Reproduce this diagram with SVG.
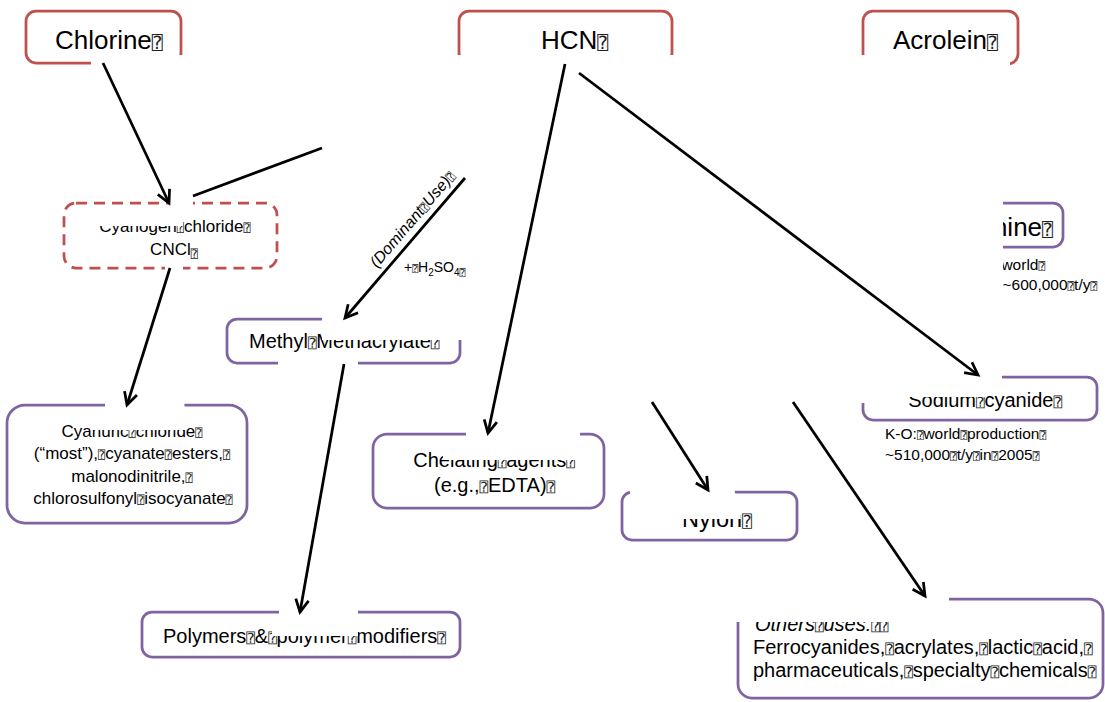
<svg xmlns="http://www.w3.org/2000/svg" width="1105" height="702" viewBox="0 0 1105 702">
  <style>
    .red { fill: none; stroke: #C0504D; stroke-width: 2.75; }
    .pur { fill: none; stroke: #8064A2; stroke-width: 2.75; }
    .dash { stroke-dasharray: 11 7; }
    text { font-family: "Liberation Sans", Arial, sans-serif; fill: #000; }
    .t26 { font-size: 26px; }
    .t24 { font-size: 23.5px; }
    .t20 { font-size: 20px; }
    .t17 { font-size: 17px; }
    .t15 { font-size: 15.5px; }
    .it { font-style: italic; }
    .q { font-family: "DejaVu Sans Mono", "DejaVu Sans", monospace; font-size: 0.7em; font-style: normal; fill: #222; }
    .mask { fill: #fff; stroke: none; }
    .conn { fill: none; stroke: #000; stroke-width: 2.75; }
  </style>
  <defs>
    <marker id="arrow" markerUnits="userSpaceOnUse" viewBox="0 0 16 14" markerWidth="16" markerHeight="14" refX="14" refY="7" orient="auto" overflow="visible">
      <path d="M1.5,0.5 L14,7 L1.5,13.5" fill="none" stroke="#000" stroke-width="2.75" stroke-linejoin="miter"/>
    </marker>
    <clipPath id="clip-amine">
      <rect x="1003" y="190" width="110" height="110"/>
    </clipPath>
  </defs>

  <rect width="1105" height="702" fill="#fff"/>

  <!-- feedstocks -->
  <g id="chlorine">
    <rect class="red" x="26" y="11" width="155" height="52" rx="10"/>
    <text class="t26" x="55" y="49">Chlorine<tspan class="q">⍰</tspan></text>
    <rect class="mask" x="91" y="55" width="95" height="12"/>
  </g>
  <g id="hcn">
    <rect class="red" x="459" y="11" width="213" height="52" rx="10"/>
    <text class="t26" x="541" y="49">HCN<tspan class="q">⍰</tspan></text>
    <rect class="mask" x="455" y="55" width="222" height="12"/>
  </g>
  <g id="acrolein">
    <rect class="red" x="863" y="11" width="155" height="53" rx="10"/>
    <text class="t26" x="893" y="49">Acrolein<tspan class="q">⍰</tspan></text>
    <rect class="mask" x="855" y="55" width="155" height="12"/>
  </g>

  <!-- intermediates -->
  <g id="cyanogen-chloride">
    <text class="t17" text-anchor="middle" x="175" y="232">Cyanogen<tspan class="q">⍰</tspan>chloride<tspan class="q">⍰</tspan></text>
    <text class="t17" text-anchor="middle" x="174" y="255">CNCl<tspan class="q" font-size="9" dy="3">⍰</tspan></text>
    <rect class="mask" x="92" y="206" width="91" height="20"/>
    <rect class="red dash" x="64" y="203" width="213" height="65" rx="12"/>
    <rect class="mask" x="169" y="198" width="24" height="10"/>
    <rect class="mask" x="165" y="263" width="18" height="10"/>
  </g>
  <g id="methyl-methacrylate">
    <rect class="pur" x="227" y="319" width="233" height="44" rx="10"/>
    <text class="t20" x="249" y="348" font-size="20.5px">Methyl<tspan class="q">⍰</tspan>Methacrylate<tspan class="q">⍰</tspan></text>
    <rect class="mask" x="322" y="310" width="143" height="30"/>
    <rect class="mask" x="278" y="358" width="80" height="10"/>
  </g>
  <g id="amine" clip-path="url(#clip-amine)">
    <rect class="pur" x="975" y="203" width="88" height="44" rx="10"/>
    <text class="t26" text-anchor="end" x="1053" y="236">nine<tspan class="q">⍰</tspan></text>
    <text class="t15" text-anchor="end" x="1045" y="270">world<tspan class="q">⍰</tspan></text>
    <text class="t15" text-anchor="end" x="1097" y="290">~600,000<tspan class="q">⍰</tspan>t/y<tspan class="q">⍰</tspan></text>
  </g>

  <!-- products -->
  <g id="cyanuric-chloride">
    <rect class="pur" x="7" y="405" width="240" height="118" rx="18"/>
    <text class="t17" text-anchor="middle" x="132" y="437">Cyanuric<tspan class="q">⍰</tspan>chloride<tspan class="q">⍰</tspan></text>
    <text class="t17" text-anchor="middle" x="132" y="459">(“most”),<tspan class="q">⍰</tspan>cyanate<tspan class="q">⍰</tspan>esters,<tspan class="q">⍰</tspan></text>
    <text class="t17" text-anchor="middle" x="132" y="481.5">malonodinitrile,<tspan class="q">⍰</tspan></text>
    <text class="t17" text-anchor="middle" x="133" y="504">chlorosulfonyl<tspan class="q">⍰</tspan>isocyanate<tspan class="q">⍰</tspan></text>
    <polygon class="mask" points="105,398 184,398 186,430 90,430 90,412 105,412"/>
  </g>
  <g id="chelating-agents">
    <rect class="pur" x="373" y="434" width="231" height="74" rx="14"/>
    <text class="t20" text-anchor="middle" x="494" y="467">Chelating<tspan class="q">⍰</tspan>agents<tspan class="q">⍰</tspan></text>
    <text class="t20" text-anchor="middle" x="494.5" y="492">(e.g.,<tspan class="q">⍰</tspan>EDTA)<tspan class="q">⍰</tspan></text>
    <polygon class="mask" points="466,426 580,426 580,460 443,460 443,440 466,440"/>
  </g>
  <g id="nylon">
    <rect class="pur" x="622" y="492" width="175" height="48" rx="10"/>
    <text class="t24" text-anchor="middle" x="717" y="527">Nylon<tspan class="q">⍰</tspan></text>
    <polygon class="mask" points="630,484 733,484 741,519 676,519 676,497 630,497"/>
  </g>
  <g id="sodium-cyanide">
    <rect class="pur" x="863" y="377" width="234" height="43" rx="10"/>
    <text class="t20" text-anchor="middle" x="985" y="407" font-size="20.5px">Sodium<tspan class="q">⍰</tspan>cyanide<tspan class="q">⍰</tspan></text>
    <polygon class="mask" points="852,362 1002,362 1002,383 987,383 987,397 870,397 870,403 852,403"/>
    <text class="t15" x="885" y="439">K-O:<tspan class="q">⍰</tspan>world<tspan class="q">⍰</tspan>production<tspan class="q">⍰</tspan></text>
    <text class="t15" x="885" y="460">~510,000<tspan class="q">⍰</tspan>t/y<tspan class="q">⍰</tspan>in<tspan class="q">⍰</tspan>2005<tspan class="q">⍰</tspan></text>
  </g>
  <g id="polymers">
    <rect class="pur" x="142" y="612" width="318" height="45" rx="10"/>
    <text class="t20" x="163" y="643" font-size="19.5px">Polymers<tspan class="q">⍰</tspan>&amp;<tspan class="q">⍰</tspan>polymer<tspan class="q">⍰</tspan>modifiers<tspan class="q">⍰</tspan></text>
    <polygon class="mask" points="279,604 358,604 358,636 272,636 272,618 279,618"/>
  </g>
  <g id="other-uses">
    <rect class="pur" x="738" y="599" width="365" height="99" rx="14"/>
    <text class="t20 it" x="755" y="631">Others<tspan class="q">⍰</tspan>uses:<tspan class="q">⍰⍰</tspan></text>
    <text class="t20" x="753" y="654">Ferrocyanides,<tspan class="q">⍰</tspan>acrylates,<tspan class="q">⍰</tspan>lactic<tspan class="q">⍰</tspan>acid,<tspan class="q">⍰</tspan></text>
    <text class="t20" x="753" y="677">pharmaceuticals,<tspan class="q">⍰</tspan>specialty<tspan class="q">⍰</tspan>chemicals<tspan class="q">⍰</tspan></text>
    <rect class="mask" x="728" y="588" width="221" height="34"/>
  </g>

  <!-- connectors -->
  <g id="connectors">
    <path class="conn" d="M103,63 L169,203" marker-end="url(#arrow)"/>
    <path class="conn" d="M193,196 L322,148"/>
    <path class="conn" d="M465,178 L345,318" marker-end="url(#arrow)"/>
    <path class="conn" d="M344,364 L300,612" marker-end="url(#arrow)"/>
    <path class="conn" d="M170,268 L127,405" marker-end="url(#arrow)"/>
    <path class="conn" d="M565,64 L488,433" marker-end="url(#arrow)"/>
    <path class="conn" d="M579,73 L978,375" marker-end="url(#arrow)"/>
    <path class="conn" d="M652,402 L708,490" marker-end="url(#arrow)"/>
    <path class="conn" d="M793,402 L925,596" marker-end="url(#arrow)"/>
    <text class="it" font-size="16px" text-anchor="middle" transform="translate(416.5,222.5) rotate(-49.4)">(Dominant<tspan class="q">⍰</tspan>Use)<tspan class="q">⍰</tspan></text>
    <text font-size="14px" x="404" y="272">+<tspan class="q">⍰</tspan>H<tspan font-size="10px" dy="4">2</tspan><tspan dy="-4">SO</tspan><tspan font-size="10px" dy="4">4</tspan><tspan class="q" font-size="8px">⍰</tspan></text>
  </g>
</svg>
